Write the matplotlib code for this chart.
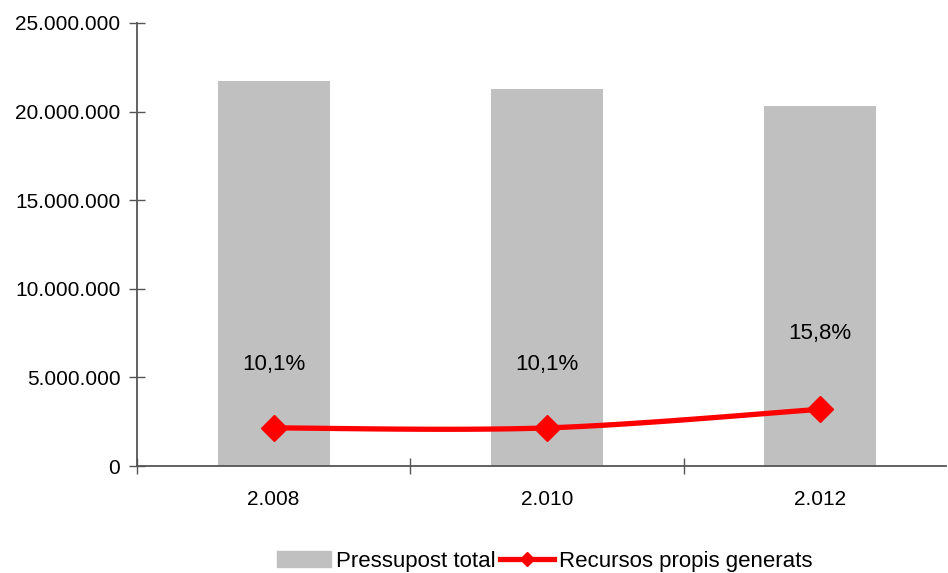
import numpy as np
import matplotlib.pyplot as plt
from matplotlib.ticker import FuncFormatter
from matplotlib.lines import Line2D
from matplotlib.patches import Patch

plt.rcParams['font.family'] = ['Liberation Sans', 'DejaVu Sans']

years = ['2.008', '2.010', '2.012']
pressupost = [21750000, 21300000, 20300000]
recursos = [2150000, 2150000, 3200000]
pct_labels = ['10,1%', '10,1%', '15,8%']
label_y = [5700000, 5700000, 7500000]


def catmull_rom(xs, ys, n=40):
    # smooth curve through the points, like the spreadsheet "smoothed line"
    px = [xs[0]] + list(xs) + [xs[-1]]
    py = [ys[0]] + list(ys) + [ys[-1]]
    out_x, out_y = [], []
    for i in range(1, len(px) - 2):
        t = np.linspace(0, 1, n)
        for p, out in ((px, out_x), (py, out_y)):
            p0, p1, p2, p3 = p[i - 1], p[i], p[i + 1], p[i + 2]
            v = 0.5 * ((2 * p1) + (-p0 + p2) * t + (2 * p0 - 5 * p1 + 4 * p2 - p3) * t ** 2
                       + (-p0 + 3 * p1 - 3 * p2 + p3) * t ** 3)
            out.extend(v)
    return out_x, out_y


fig = plt.figure(figsize=(9.48, 5.73), dpi=100)
ax = fig.add_axes([137 / 948, 1 - 466 / 573, 809 / 948, 443 / 573])

x = np.arange(len(years))
ax.bar(x, pressupost, width=0.41, color='#c0c0c0')

sx, sy = catmull_rom(x, recursos)
ax.plot(sx, sy, color='#ff0000', lw=3.8, solid_capstyle='round', zorder=3)
ax.plot(x, recursos, ls='none', marker='D', ms=13, color='#ff0000', zorder=4)

for xi, ly, txt in zip(x, label_y, pct_labels):
    ax.text(xi, ly, txt, ha='center', va='center', fontsize=16)

ax.set_xlim(-0.5, 2.46)
ax.set_ylim(0, 25000000)
ax.set_yticks(np.arange(0, 25000001, 5000000))
ax.yaxis.set_major_formatter(FuncFormatter(lambda v, p: f'{int(v):,}'.replace(',', '.')))
ax.set_xticks(x)
ax.set_xticklabels(years)
ax.set_xticks([-0.5, 0.5, 1.5], minor=True)

for side in ('top', 'right'):
    ax.spines[side].set_visible(False)
for side in ('left', 'bottom'):
    ax.spines[side].set_color('#555555')
    ax.spines[side].set_linewidth(1.3)

ax.tick_params(axis='y', direction='inout', length=12, width=1, color='#555555', labelsize=15, pad=6)
ax.tick_params(axis='x', which='major', length=0, labelsize=15, pad=17)
ax.tick_params(axis='x', which='minor', direction='inout', length=12, width=1, color='#555555')

handles = [Patch(color='#c0c0c0'),
           Line2D([], [], color='#ff0000', lw=3.8, marker='D', ms=7)]
fig.legend(handles, ['Pressupost total', 'Recursos propis generats'], loc='center',
           bbox_to_anchor=(545 / 948, 1 - 561 / 573), ncol=2, frameon=False, fontsize=16,
           handlelength=2.4, handletextpad=0.25, columnspacing=0.2, handleheight=0.7)

fig.savefig('out.png', dpi=100)
